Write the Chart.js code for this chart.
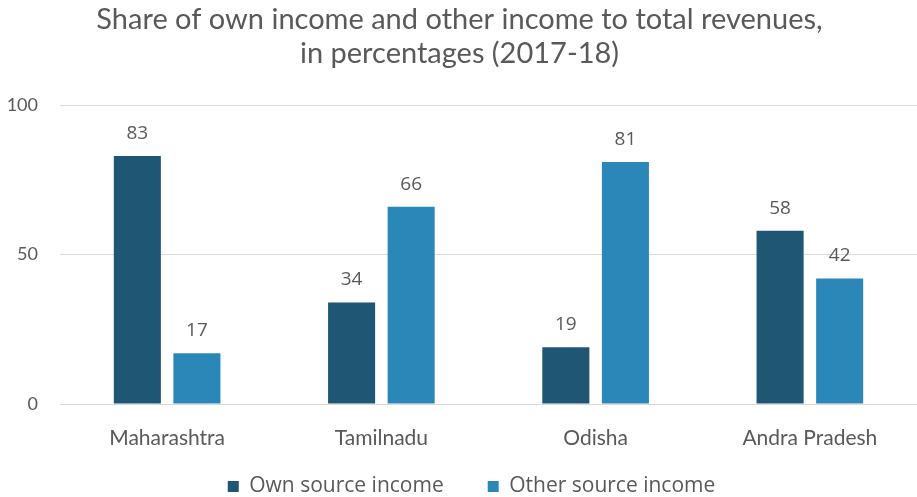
<!DOCTYPE html>
<html>
<head>
<meta charset="utf-8">
<script src="https://cdn.jsdelivr.net/npm/chart.js@4"></script>
<style>
  html, body { margin: 0; padding: 0; background: #fff; }
  #wrap { width: 917px; height: 497px; }
</style>
</head>
<body>
<div id="wrap"><canvas id="shareChart"></canvas></div>
<script>
// data
const states = ['Maharashtra', 'Tamilnadu', 'Odisha', 'Andra Pradesh'];
const ownIncome = [83, 34, 19, 58];
const otherIncome = [17, 66, 81, 42];
const seriesNames = ['Own source income', 'Other source income'];
const yTicks = [0, 50, 100];

const darkBlue = '#1e5674';
const lightBlue = '#2c87b9';
const grey = '#595959';

// labels on top of the bars
const valueLabels = {
    id: 'valueLabels',
    afterDatasetsDraw(chart) {
        const ctx = chart.ctx;
        ctx.save();
        ctx.font = '19px "Open Sans"';
        ctx.fillStyle = grey;
        ctx.textAlign = 'center';
        ctx.textBaseline = 'bottom';
        chart.data.datasets.forEach((ds, i) => {
            chart.getDatasetMeta(i).data.forEach((bar, j) => {
                ctx.fillText(ds.data[j], bar.x, bar.y - 13);
            });
        });
        ctx.restore();
    }
};

// legend sits a bit closer to the axis labels than its padding allows
const legendShift = {
    id: 'legendShift',
    afterLayout(chart) {
        if (!chart.legend) return;
        chart.legend.top -= 20;
        chart.legend.bottom -= 20;
        chart.legend.left += 12;
        chart.legend.right += 12;
    }
};

let ctx = document.getElementById('shareChart');
new Chart(ctx, {
    type: 'bar',
    data: {
        labels: states,
        datasets: [
            { label: seriesNames[0], data: ownIncome, backgroundColor: darkBlue },
            { label: seriesNames[1], data: otherIncome, backgroundColor: lightBlue }
        ]
    },
    options: {
        responsive: true,
        maintainAspectRatio: false,
        animation: false,
        categoryPercentage: 0.556,
        barPercentage: 0.79,
        layout: { padding: { left: 2, right: 0, top: 0, bottom: -30 } },
        plugins: {
            title: {
                display: true,
                text: ['Share of own income and other income to total revenues,', 'in percentages (2017-18)'],
                color: grey,
                font: { family: 'Lato', size: 29, weight: 'normal', lineHeight: 1.16 },
                padding: { top: 3, bottom: 35 }
            },
            legend: {
                position: 'bottom',
                labels: {
                    color: grey,
                    font: { family: 'Open Sans', size: 21 },
                    boxWidth: 11,
                    boxHeight: 11,
                    padding: 44
                }
            },
            tooltip: { enabled: false }
        },
        scales: {
            x: {
                grid: { display: false },
                border: { color: '#d9d9d9' },
                ticks: { color: grey, font: { family: 'Lato', size: 21 }, padding: 14 },
                afterFit: (axis) => { axis.paddingLeft = 0; axis.paddingRight = 0; axis.height = 48; }
            },
            y: {
                min: 0,
                max: 100,
                afterBuildTicks: (axis) => { axis.ticks = yTicks.map(v => ({ value: v })); },
                afterFit: (axis) => { axis.width = 58; },
                grid: { color: '#d9d9d9', drawTicks: false },
                border: { display: false },
                ticks: { color: grey, font: { family: 'Lato', size: 18 }, padding: 22 }
            }
        }
    },
    plugins: [valueLabels, legendShift]
});
</script>
</body>
</html>
